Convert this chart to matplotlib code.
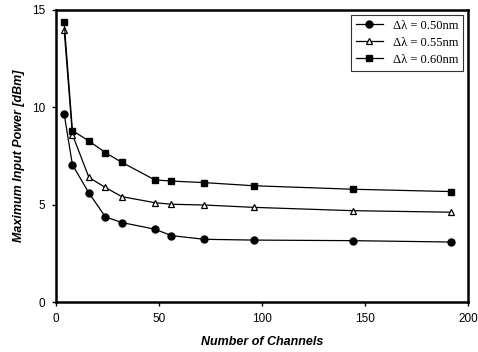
import matplotlib
matplotlib.use("Agg")
import matplotlib.pyplot as plt

channels = [4, 8, 16, 24, 32, 48, 56, 72, 96, 144, 192]
p050 = [9.65, 7.05, 5.6, 4.37, 4.08, 3.74, 3.41, 3.22, 3.18, 3.15, 3.08]
p055 = [13.95, 8.6, 6.4, 5.88, 5.41, 5.1, 5.02, 4.98, 4.86, 4.69, 4.61]
p060 = [14.38, 8.8, 8.27, 7.67, 7.17, 6.27, 6.21, 6.13, 5.97, 5.79, 5.67]
labels = ["\u0394\u03bb = 0.50nm", "\u0394\u03bb = 0.55nm", "\u0394\u03bb = 0.60nm"]

plt.rcParams['font.family'] = ['Liberation Sans', 'DejaVu Sans']

fig = plt.figure(figsize=(4.78, 3.52), dpi=100)
ax = fig.add_axes([0.117, 0.142, 0.862, 0.83])

ax.plot(channels, p050, color='black', lw=0.9, marker='o', ms=5, mfc='black', label=labels[0])
ax.plot(channels, p055, color='black', lw=0.9, marker='^', ms=5, mfc='white', mew=0.9, label=labels[1])
ax.plot(channels, p060, color='black', lw=0.9, marker='s', ms=4.5, mfc='black', label=labels[2])

ax.set_xlim(0, 200)
ax.set_ylim(0, 15)
ax.set_xticks([0, 50, 100, 150, 200])
ax.set_yticks([0, 5, 10, 15])
ax.tick_params(direction='out', length=3, width=1, labelsize=8.5, pad=5)
for s in ax.spines.values():
    s.set_linewidth(1.8)

ax.set_xlabel("Number of Channels", fontsize=9, fontweight='bold', style='italic', labelpad=8)
ax.set_ylabel("Maximum Input Power [dBm]", fontsize=9, fontweight='bold', style='italic', labelpad=5)

leg = ax.legend(loc='upper right', prop={'family': 'Liberation Serif', 'size': 9},
                frameon=True, fancybox=False, edgecolor='black', borderaxespad=0.4,
                handlelength=2.1, labelspacing=0.4)
leg.get_frame().set_linewidth(0.8)

fig.savefig("out.png", dpi=100)
